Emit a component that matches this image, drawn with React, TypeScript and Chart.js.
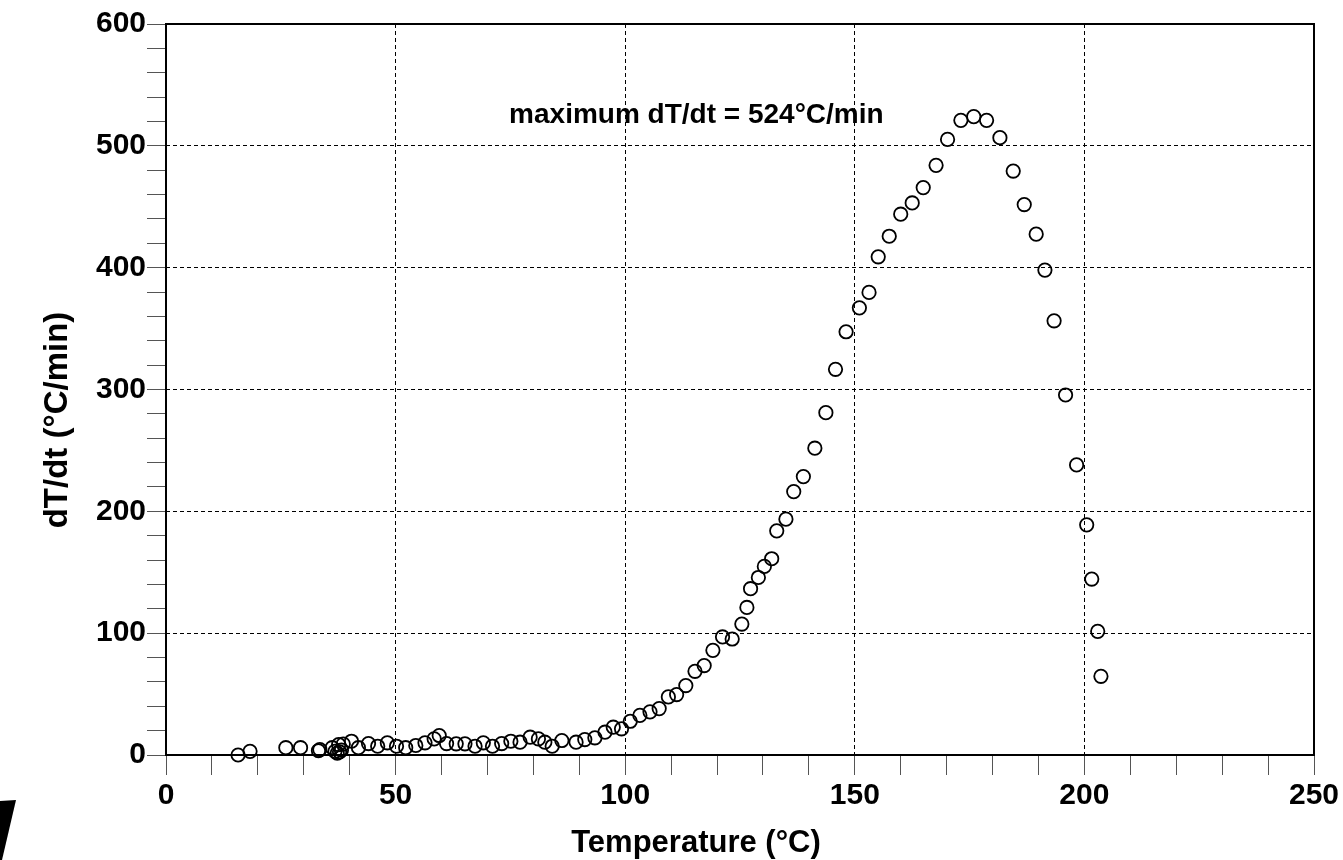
import React, { useEffect, useRef } from "react";
import { Chart, registerables } from "chart.js";

Chart.register(...registerables);

// Measured heating-rate curve: temperature (°C) vs dT/dt (°C/min)
const temperature: number[] = [
  15.7, 18.3, 26.1, 29.3, 33.2, 33.5, 36.2, 36.8, 37.3, 37.8, 38.2, 37.6,
  38.6, 40.4, 41.9, 44.1, 46.1, 48.2, 50.2, 52.2, 54.4, 56.4, 58.4, 59.5,
  61.1, 63.2, 65.1, 67.3, 69.1, 71.1, 73.1, 75.1, 77.1, 79.3, 81.1, 82.5,
  84.1, 86.2, 89.3, 91.2, 93.4, 95.6, 97.4, 99.2, 101.1, 103.2, 105.4, 107.4,
  109.4, 111.2, 113.2, 115.2, 117.2, 119.1, 121.2, 123.3, 125.4, 126.5, 127.3, 129.0,
  130.3, 131.9, 133.0, 135.0, 136.7, 138.8, 141.3, 143.7, 145.8, 148.1, 151.0, 153.1,
  155.1, 157.5, 160.0, 162.5, 164.9, 167.7, 170.2, 173.1, 175.9, 178.7, 181.6, 184.5,
  186.9, 189.5, 191.4, 193.4, 195.9, 198.3, 200.5, 201.6, 202.9, 203.6,
];

const rate: number[] = [
  0, 3, 6, 6, 3.5, 4.5, 6, 3, 1.5, 2.5, 4, 8.5,
  9, 11.3, 6, 9.4, 7.2, 10, 7.2, 6, 7.8, 10, 13.2, 16,
  9.4, 9.2, 9.2, 7.2, 10, 7.2, 9.4, 11.3, 10.5, 14.6, 13.2, 10.5,
  7.2, 11.9, 10.5, 12.7, 14.1, 18.7, 22.8, 21.5, 27.7, 32.5, 35.4, 38.1,
  47.7, 49.6, 57, 68.7, 73.4, 85.9, 96.9, 95.2, 107.5, 121.1, 136.5, 145.7,
  154.8, 161.1, 184, 193.6, 216.2, 228.5, 251.8, 281, 316.6, 347.4, 367, 379.7,
  408.9, 425.8, 443.9, 453.1, 465.7, 484, 505.3, 520.9, 524, 520.9, 506.7, 479.3,
  451.8, 427.5, 398, 356.4, 295.5, 238.1, 188.9, 144.4, 101.5, 64.6,
];

// Axis ranges and tick spacing
const xRange: [number, number] = [0, 250];
const xMinorStep = 10;
const xMajorStep = 50;
const yRange: [number, number] = [0, 600];
const yMinorStep = 20;
const yMajorStep = 100;

const xTitle = "Temperature (°C)";
const yTitle = "dT/dt (°C/min)";

// Baseline of the peak annotation, in data units
const notePosition = { x: 115.5, y: 518.5 };

const FONT = "'Liberation Sans', Arial, Helvetica, sans-serif";

const frameBox = {
  id: "frameBox",
  afterDatasetsDraw(chart: any) {
    const { ctx, chartArea, scales } = chart;
    ctx.save();
    ctx.strokeStyle = "#000";
    ctx.lineWidth = 2;
    ctx.strokeRect(
      chartArea.left,
      chartArea.top,
      chartArea.right - chartArea.left,
      chartArea.bottom - chartArea.top
    );
    const peak = Math.max(...rate);
    ctx.fillStyle = "#000";
    ctx.font = `bold 28px ${FONT}`;
    ctx.textAlign = "center";
    ctx.textBaseline = "alphabetic";
    ctx.fillText(
      `maximum dT/dt = ${peak}°C/min`,
      scales.x.getPixelForValue(notePosition.x),
      scales.y.getPixelForValue(notePosition.y)
    );
    ctx.restore();
  },
  afterDraw(chart: any) {
    const { ctx, height } = chart;
    ctx.save();
    ctx.fillStyle = "#000";

    // axis titles
    ctx.textAlign = "center";
    ctx.textBaseline = "alphabetic";
    ctx.font = `bold 31px ${FONT}`;
    ctx.fillText(xTitle, 696, 852);
    ctx.translate(67, 420);
    ctx.rotate(-Math.PI / 2);
    ctx.font = `bold 33px ${FONT}`;
    ctx.fillText(yTitle, 0, 0);
    ctx.setTransform(1, 0, 0, 1, 0, 0);

    // corner mark of the letterhead logo
    ctx.beginPath();
    ctx.moveTo(0, height - 59);
    ctx.lineTo(16, height - 60);
    ctx.lineTo(2, height);
    ctx.lineTo(0, height);
    ctx.closePath();
    ctx.fill();
    ctx.restore();
  },
};

export default function App() {
  const canvasRef = useRef<HTMLCanvasElement | null>(null);

  useEffect(() => {
    if (!canvasRef.current) return;
    const points = temperature.map((t, i) => ({ x: t, y: rate[i] }));

    const gridColor = (major: number, lo: number, hi: number) => (c: any) => {
      const v = c.tick ? c.tick.value : NaN;
      return v % major === 0 && v !== lo && v !== hi ? "#000" : "rgba(0,0,0,0)";
    };

    const chart = new Chart(canvasRef.current, {
      type: "scatter",
      data: {
        datasets: [
          {
            data: points,
            showLine: false,
            pointStyle: "circle",
            pointRadius: 6.7,
            pointBorderWidth: 1.8,
            pointBorderColor: "#000",
            pointBackgroundColor: "rgba(0,0,0,0)",
            clip: false,
          } as any,
        ],
      },
      options: {
        animation: false,
        responsive: false,
        layout: { autoPadding: false, padding: { left: 0, top: 24, right: 29, bottom: 0 } } as any,
        plugins: { legend: { display: false }, tooltip: { enabled: false } },
        scales: {
          x: {
            type: "linear",
            min: xRange[0],
            max: xRange[1],
            afterFit: (s: any) => {
              s.height = 105;
            },
            ticks: {
              stepSize: xMinorStep,
              autoSkip: false,
              maxRotation: 0,
              padding: 3,
              color: "#000",
              font: { family: FONT, size: 30, weight: "bold" },
              callback: (v: any) => (Number(v) % xMajorStep === 0 ? String(v) : ""),
            },
            grid: {
              color: gridColor(xMajorStep, xRange[0], xRange[1]),
              lineWidth: 1,
              tickColor: "#555",
              tickLength: 20,
              tickWidth: 1,
              tickBorderDash: [],
            },
            border: { display: false, dash: [4, 3] },
            title: { display: false },
          } as any,
          y: {
            type: "linear",
            min: yRange[0],
            max: yRange[1],
            afterFit: (s: any) => {
              s.width = 166;
            },
            ticks: {
              stepSize: yMinorStep,
              autoSkip: false,
              padding: 1,
              color: "#000",
              font: { family: FONT, size: 30, weight: "bold" },
              callback: (v: any) => (Number(v) % yMajorStep === 0 ? String(v) : ""),
            },
            grid: {
              color: gridColor(yMajorStep, yRange[0], yRange[1]),
              lineWidth: 1,
              tickColor: "#555",
              tickLength: 19,
              tickWidth: 1,
              tickBorderDash: [],
            },
            border: { display: false, dash: [4, 3] },
            title: { display: false },
          } as any,
        },
      },
      plugins: [frameBox],
    });

    return () => chart.destroy();
  }, []);

  return (
    <div style={{ position: "fixed", left: 0, top: 0, width: 1343, height: 860, background: "#fff" }}>
      <canvas ref={canvasRef} width={1343} height={860} />
    </div>
  );
}
